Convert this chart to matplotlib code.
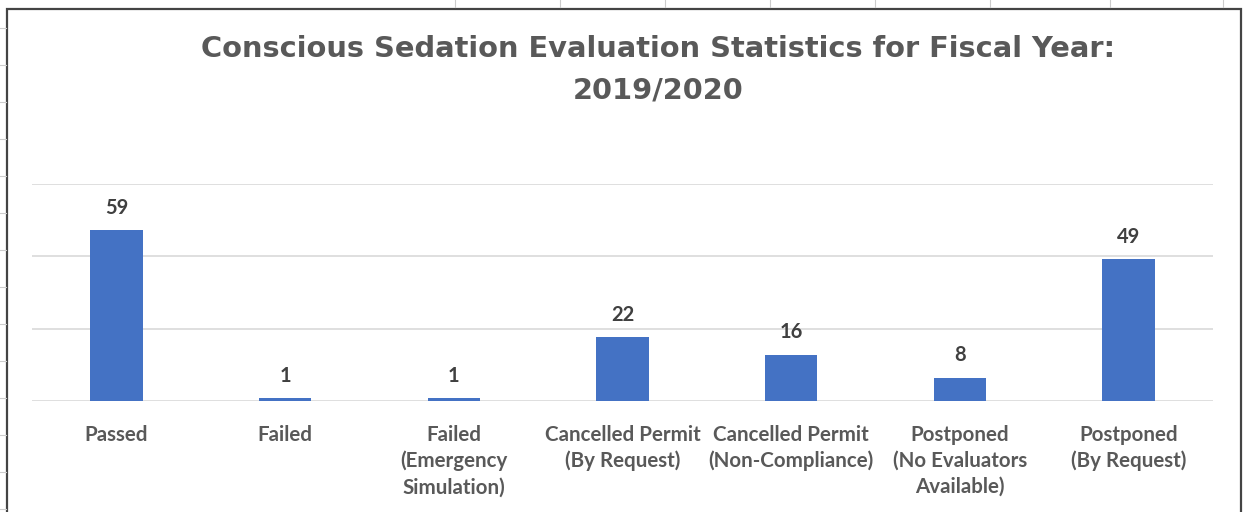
import matplotlib
matplotlib.use("Agg")
import matplotlib.pyplot as plt
from matplotlib.patches import Rectangle
from matplotlib.lines import Line2D

categories = [
    "Passed",
    "Failed",
    "Failed\n(Emergency\nSimulation)",
    "Cancelled Permit\n(By Request)",
    "Cancelled Permit\n(Non-Compliance)",
    "Postponed\n(No Evaluators\nAvailable)",
    "Postponed\n(By Request)",
]
counts = [59, 1, 1, 22, 16, 8, 49]
y_ticks = [0, 25, 50, 75]

TITLE = "Conscious Sedation Evaluation Statistics for Fiscal Year:\n2019/2020"
BAR = "#4472C4"
GRID = "#d9d9d9"
TXT = "#595959"

W, H = 1244, 512
fig = plt.figure(figsize=(W / 100, H / 100), dpi=100)

# axes placed in pixel terms of the reference
left, right, top, bottom = 32, 1213, 184, 401
ax = fig.add_axes([left / W, 1 - bottom / H, (right - left) / W, (bottom - top) / H])

x = range(len(categories))
bars = ax.bar(x, counts, width=0.31, color=BAR, zorder=3)
ax.set_xlim(-0.5, len(categories) - 0.5)
ax.set_ylim(0, 75)
ax.set_yticks(y_ticks)
ax.yaxis.grid(True, color=GRID, lw=1.2, zorder=0)
ax.tick_params(axis="y", left=False, labelleft=False)
ax.tick_params(axis="x", length=0, pad=17)
for s in ax.spines.values():
    s.set_visible(False)
ax.set_xticks(list(x))
ax.set_xticklabels(categories, fontsize=14.8, fontweight="bold", color=TXT,
                   family="Lato", linespacing=1.38)

for b, v in zip(bars, counts):
    ax.annotate(str(v), (b.get_x() + b.get_width() / 2, v), xytext=(0, 9),
                textcoords="offset points", ha="center", va="bottom",
                fontsize=14.5, fontweight="bold", color="#404040", family="Lato")

fig.text(658 / W, 1 - 70 / H, TITLE, ha="center", va="center", fontsize=20.8,
         fontweight="bold", color=TXT, family="DejaVu Sans", linespacing=1.6)

# chart frame as in the spreadsheet screenshot
fig.add_artist(Rectangle((7 / W, -0.05), (1241 - 7) / W, 1.05 - 9 / H,
                         transform=fig.transFigure, fill=False, ec="#444444", lw=1.6))
# faint spreadsheet grid marks outside the chart
for yy in range(28, 512, 37):
    fig.add_artist(Line2D([0, 6 / W], [1 - yy / H] * 2, transform=fig.transFigure,
                          color="#cccccc", lw=0.8))
for xx in [455, 560, 665, 770, 875, 990, 1110, 1223]:
    fig.add_artist(Line2D([xx / W] * 2, [1, 1 - 7 / H], transform=fig.transFigure,
                          color="#cccccc", lw=0.8))

fig.savefig("out.png", dpi=100)
